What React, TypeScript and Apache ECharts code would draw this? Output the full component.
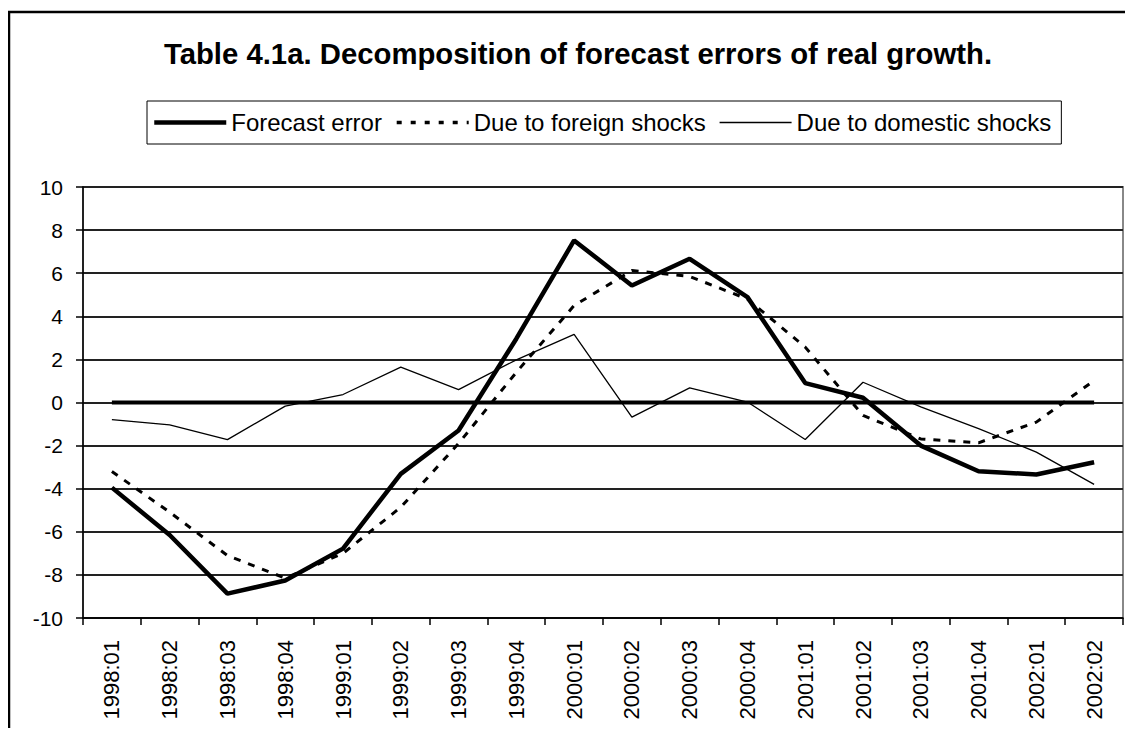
import React, { useEffect, useRef } from "react";
import * as echarts from "echarts";

const categories = [
  "1998:01", "1998:02", "1998:03", "1998:04",
  "1999:01", "1999:02", "1999:03", "1999:04",
  "2000:01", "2000:02", "2000:03", "2000:04",
  "2001:01", "2001:02", "2001:03", "2001:04",
  "2002:01", "2002:02",
];

const forecastError = [
  -3.95, -6.15, -8.87, -8.26, -6.78, -3.31, -1.3, 2.96, 7.52,
  5.43, 6.67, 4.89, 0.9, 0.22, -2.0, -3.19, -3.34, -2.77,
];

const foreignShocks = [
  -3.2, -5.09, -7.1, -8.15, -7.0, -4.86, -1.9, 1.4, 4.5,
  6.12, 5.85, 4.8, 2.57, -0.6, -1.69, -1.87, -0.91, 1.02,
];

const domesticShocks = [
  -0.79, -1.04, -1.72, -0.17, 0.37, 1.64, 0.6, 1.98, 3.16,
  -0.68, 0.68, 0.02, -1.72, 0.94, -0.2, -1.21, -2.3, -3.8,
];

const zeroLine = categories.map(() => 0);

const yTicks = { min: -10, max: 10, interval: 2 };

const FONT = "'Liberation Sans', Arial, sans-serif";

export default function App() {
  const ref = useRef<HTMLDivElement>(null);

  useEffect(() => {
    if (!ref.current) return;
    const chart = echarts.init(ref.current, undefined, { renderer: "svg" });
    chart.setOption({
      animation: false,
      backgroundColor: "#ffffff",
      textStyle: { fontFamily: FONT },
      graphic: [
        {
          type: "rect",
          shape: { x: 9, y: 12, width: 1122, height: 800 },
          style: { fill: "none", stroke: "#000", lineWidth: 2.5 },
          silent: true,
          z: 0,
        },
        {
          type: "text",
          x: 578,
          y: 53,
          style: {
            text: "Table 4.1a. Decomposition of forecast errors of real growth.",
            fontFamily: FONT,
            fontSize: 29.3,
            fontWeight: "bold",
            fill: "#000",
            textAlign: "center",
            textVerticalAlign: "middle",
          },
        },
      ],
      legend: {
        data: [
          { name: "Forecast error", lineStyle: { width: 4.5, color: "#000" } },
          { name: "Due to foreign shocks", lineStyle: { width: 3.5, color: "#000", type: [5, 9] } },
          { name: "Due to domestic shocks", lineStyle: { width: 1.5, color: "#000" } },
        ],
        left: 147,
        top: 101,
        orient: "horizontal",
        padding: [8, 10, 8, 5],
        itemWidth: 72,
        itemHeight: 14,
        itemGap: 13,
        borderColor: "#000",
        borderWidth: 1,
        itemStyle: { opacity: 0 },
        textStyle: { fontFamily: FONT, fontSize: 24, lineHeight: 27, color: "#000" },
      },
      grid: {
        left: 83,
        right: 10,
        top: 187,
        bottom: 118,
        show: true,
        borderColor: "#888",
        borderWidth: 2,
        backgroundColor: "transparent",
      },
      xAxis: {
        type: "category",
        data: categories,
        boundaryGap: true,
        axisLine: { show: true, onZero: false, lineStyle: { color: "#000", width: 1.5 } },
        axisTick: { show: true, length: 7, lineStyle: { color: "#000", width: 1.5 } },
        axisLabel: {
          rotate: 90,
          margin: 22,
          fontSize: 22,
          fontFamily: FONT,
          color: "#000",
          interval: 0,
        },
        splitLine: { show: false },
      },
      yAxis: {
        type: "value",
        min: yTicks.min,
        max: yTicks.max,
        interval: yTicks.interval,
        axisLine: { show: true, lineStyle: { color: "#000", width: 1.5 } },
        axisTick: { show: true, length: 7, lineStyle: { color: "#000", width: 1.5 } },
        axisLabel: { margin: 20, fontSize: 21, fontFamily: FONT, color: "#000" },
        splitLine: { show: true, lineStyle: { color: "#222", width: 2 } },
      },
      series: [
        {
          name: "zero",
          type: "line",
          data: zeroLine,
          symbol: "none",
          lineStyle: { color: "#000", width: 4 },
          silent: true,
          z: 1,
        },
        {
          name: "Forecast error",
          type: "line",
          data: forecastError,
          symbol: "none",
          lineStyle: { color: "#000", width: 4.5 },
          itemStyle: { color: "#000" },
          z: 4,
        },
        {
          name: "Due to foreign shocks",
          type: "line",
          data: foreignShocks,
          symbol: "none",
          lineStyle: { color: "#000", width: 3, type: [7, 8] },
          itemStyle: { color: "#000" },
          z: 3,
        },
        {
          name: "Due to domestic shocks",
          type: "line",
          data: domesticShocks,
          symbol: "none",
          lineStyle: { color: "#000", width: 1.3 },
          itemStyle: { color: "#000" },
          z: 2,
        },
      ],
    });
    return () => chart.dispose();
  }, []);

  return <div ref={ref} style={{ width: 1133, height: 736, margin: -8 }} />;
}
